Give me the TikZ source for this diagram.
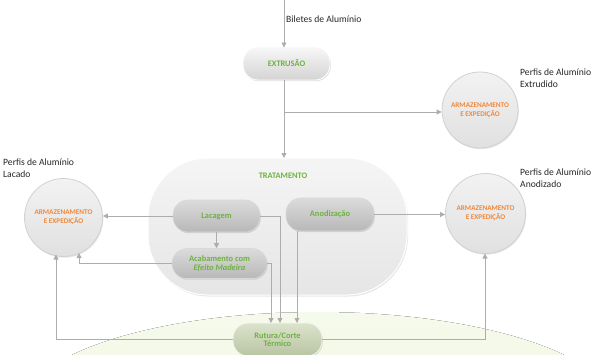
\documentclass[tikz,border=0pt]{standalone}
\usepackage{fontspec}
\setmainfont{Carlito}
\usetikzlibrary{shadows,arrows.meta}
\definecolor{grn}{HTML}{6DB33F}
\definecolor{org}{HTML}{F0883A}
\definecolor{ln}{HTML}{ADADAD}
\definecolor{bgA}{HTML}{F6FAEC}
\definecolor{bgB}{HTML}{EBF3D8}
\definecolor{rutA}{HTML}{DCE3CC}
\definecolor{rutB}{HTML}{B9C4A2}
\tikzset{
  conn/.style={draw=ln, line width=0.8pt, -{Triangle[length=5pt,width=5pt]}},
  pill/.style={rounded corners=15pt, draw=white, line width=0.8pt, top color=white!97!black, bottom color=white!83!black,
    font=\bfseries\fontsize{8.4}{8.6}\selectfont, text=grn, align=center, inner sep=0pt,
    drop shadow={shadow xshift=0.8pt, shadow yshift=-1.2pt, opacity=0.25}},
  ipill/.style={rounded corners=15pt, draw=white!85!black, line width=0.6pt, top color=white!86!black, bottom color=white!72!black,
    font=\bfseries\fontsize{8.4}{8.6}\selectfont, text=grn, align=center, inner sep=0pt,
    drop shadow={shadow xshift=0.8pt, shadow yshift=-1.2pt, opacity=0.25}},
  store/.style={circle, draw=white!82!black, line width=0.8pt, top color=white!95!black, bottom color=white!88!black,
    font=\bfseries\fontsize{7.2}{9}\selectfont, text=org, align=center, inner sep=0pt,
    drop shadow={shadow xshift=0.8pt, shadow yshift=-1.2pt, opacity=0.2}},
  lbl/.style={font=\fontsize{9.6}{12}\selectfont, align=left, inner sep=0pt, text=black!85}
}
\begin{document}
\begin{tikzpicture}[x=1pt,y=-1pt]
\useasboundingbox (0,0) rectangle (602,354);
\begin{scope}
\clip (0,0) rectangle (602,354);
\fill[top color=bgA, bottom color=bgB] (318,412) ellipse [x radius=300, y radius=100];
\end{scope}
% treatment container
\node[draw=white, line width=1pt, rounded corners=60pt, top color=white!96!black, bottom color=white!90!black,
  minimum width=259pt, minimum height=137pt, inner sep=0pt,
  drop shadow={shadow xshift=1pt, shadow yshift=-1.5pt, opacity=0.2}] (trat) at (277.5,226.5) {};
\node[font=\bfseries\fontsize{8.4}{8.6}\selectfont, text=grn] (tratl) at (283,176) {TRATAMENTO};
% nodes
\node[pill, minimum width=87pt, minimum height=33pt] (ext) at (286.5,63.5) {EXTRUSÃO};
\node[ipill, minimum width=87pt, minimum height=32pt] (lac) at (216.5,216) {Lacagem};
\node[ipill, minimum width=88pt, minimum height=33pt] (ano) at (330,214.5) {Anodização};
\node[ipill, minimum width=95pt, minimum height=30pt] (acab) at (219.5,263.5) {Acabamento com\\\textit{Efeito Madeira}};
\node[pill, top color=rutA, bottom color=rutB, draw=white!70!rutA,
  minimum width=89pt, minimum height=33pt] (rut) at (277.5,339.5) {Rutura/Corte\\Térmico};
\node[store, minimum size=76pt] (s1) at (480,110) {ARMAZENAMENTO\\E EXPEDIÇÃO};
\node[store, minimum size=78pt] (s2) at (63.5,217.5) {ARMAZENAMENTO\\E EXPEDIÇÃO};
\node[store, minimum size=80pt] (s3) at (485.5,213.5) {ARMAZENAMENTO\\E EXPEDIÇÃO};
% labels
\coordinate (top) at (284,0);
\node[lbl, anchor=west] (bil) at (286,19) {Biletes de Alumínio};
\node[lbl, anchor=north west] (l1) at (520,69) {Perfis de Alumínio\\Extrudido};
\node[lbl, anchor=north west] (l2) at (3,159) {Perfis de Alumínio\\Lacado};
\node[lbl, anchor=north west] (l3) at (520,169) {Perfis de Alumínio\\Anodizado};
% connectors
\draw[conn] (top) -- (284,47.5);
\draw[conn] (284,80) -- (284,158);
\coordinate (br) at (284,112);
\draw[conn] (br) -- (s1.west |- br);
\draw[conn] (lac.west) -- (s2.east |- lac.west);
\draw[conn] (lac.south) -- (acab.north -| lac.south);
\draw[conn] (ano.east) -- (s3.west |- ano.east);
\draw[conn] (lac.east) -| (280,323);
\draw[conn] (acab.east) -| (271,323);
\draw[conn] (297,231) -- (297,323);
\draw[conn] (acab.west) -| (79,253);
\draw[conn] (rut.west) -| (56,254.5);
\draw[conn] (rut.east) -| (485,253.5);
\end{tikzpicture}
\end{document}
